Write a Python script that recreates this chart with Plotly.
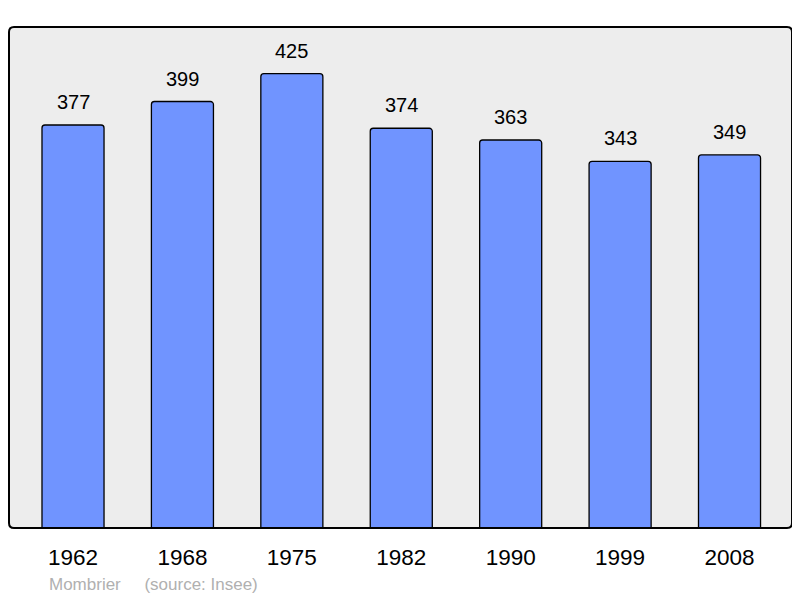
import plotly.graph_objects as go

years = ["1962", "1968", "1975", "1982", "1990", "1999", "2008"]
population = [377, 399, 425, 374, 363, 343, 349]
commune = "Mombrier"
source = "(source: Insee)"

FONT = "Liberation Sans, Arial"
PW, PH = 783, 501  # plot area size in px

fig = go.Figure()
fig.add_trace(go.Bar(
    x=list(range(len(years))), y=population,
    width=0.567,
    marker=dict(color="#7094ff", line=dict(color="#000000", width=1.3), cornerradius=3),
    hoverinfo="skip",
))

for i, v in enumerate(population):
    fig.add_annotation(x=i, y=v, text=str(v), showarrow=False, yshift=23,
                       font=dict(family=FONT, size=20, color="#000"))

# rounded plot-area border
rx, ry = 5 / PW, 5 / PH
path = (f"M {rx},0 L {1-rx},0 Q 1,0 1,{ry} L 1,{1-ry} Q 1,1 {1-rx},1 "
        f"L {rx},1 Q 0,1 0,{1-ry} L 0,{ry} Q 0,0 {rx},0 Z")
fig.add_shape(type="path", xref="paper", yref="paper", path=path,
              line=dict(color="#000", width=2), layer="above")

fig.add_annotation(xref="paper", yref="paper", x=38 / PW, y=-56 / PH, xanchor="left", yanchor="middle",
                   text=commune + "     " + source, showarrow=False,
                   font=dict(family=FONT, size=17, color="#b0b0b0"))

fig.update_layout(
    width=792, height=590,
    margin=dict(l=1, r=8, t=19, b=70, pad=0),
    paper_bgcolor="#ffffff", plot_bgcolor="#ededed",
    showlegend=False,
    xaxis=dict(range=[-0.585, 6.571], tickmode="array", tickvals=list(range(len(years))), ticktext=years,
               showgrid=False, zeroline=False, showline=False, ticks="", ticklabelstandoff=13,
               tickfont=dict(family=FONT, size=22.5, color="#000")),
    yaxis=dict(range=[0, 468.7], showgrid=False, zeroline=False, showticklabels=False, ticks=""),
)

fig.write_html("out.html")
